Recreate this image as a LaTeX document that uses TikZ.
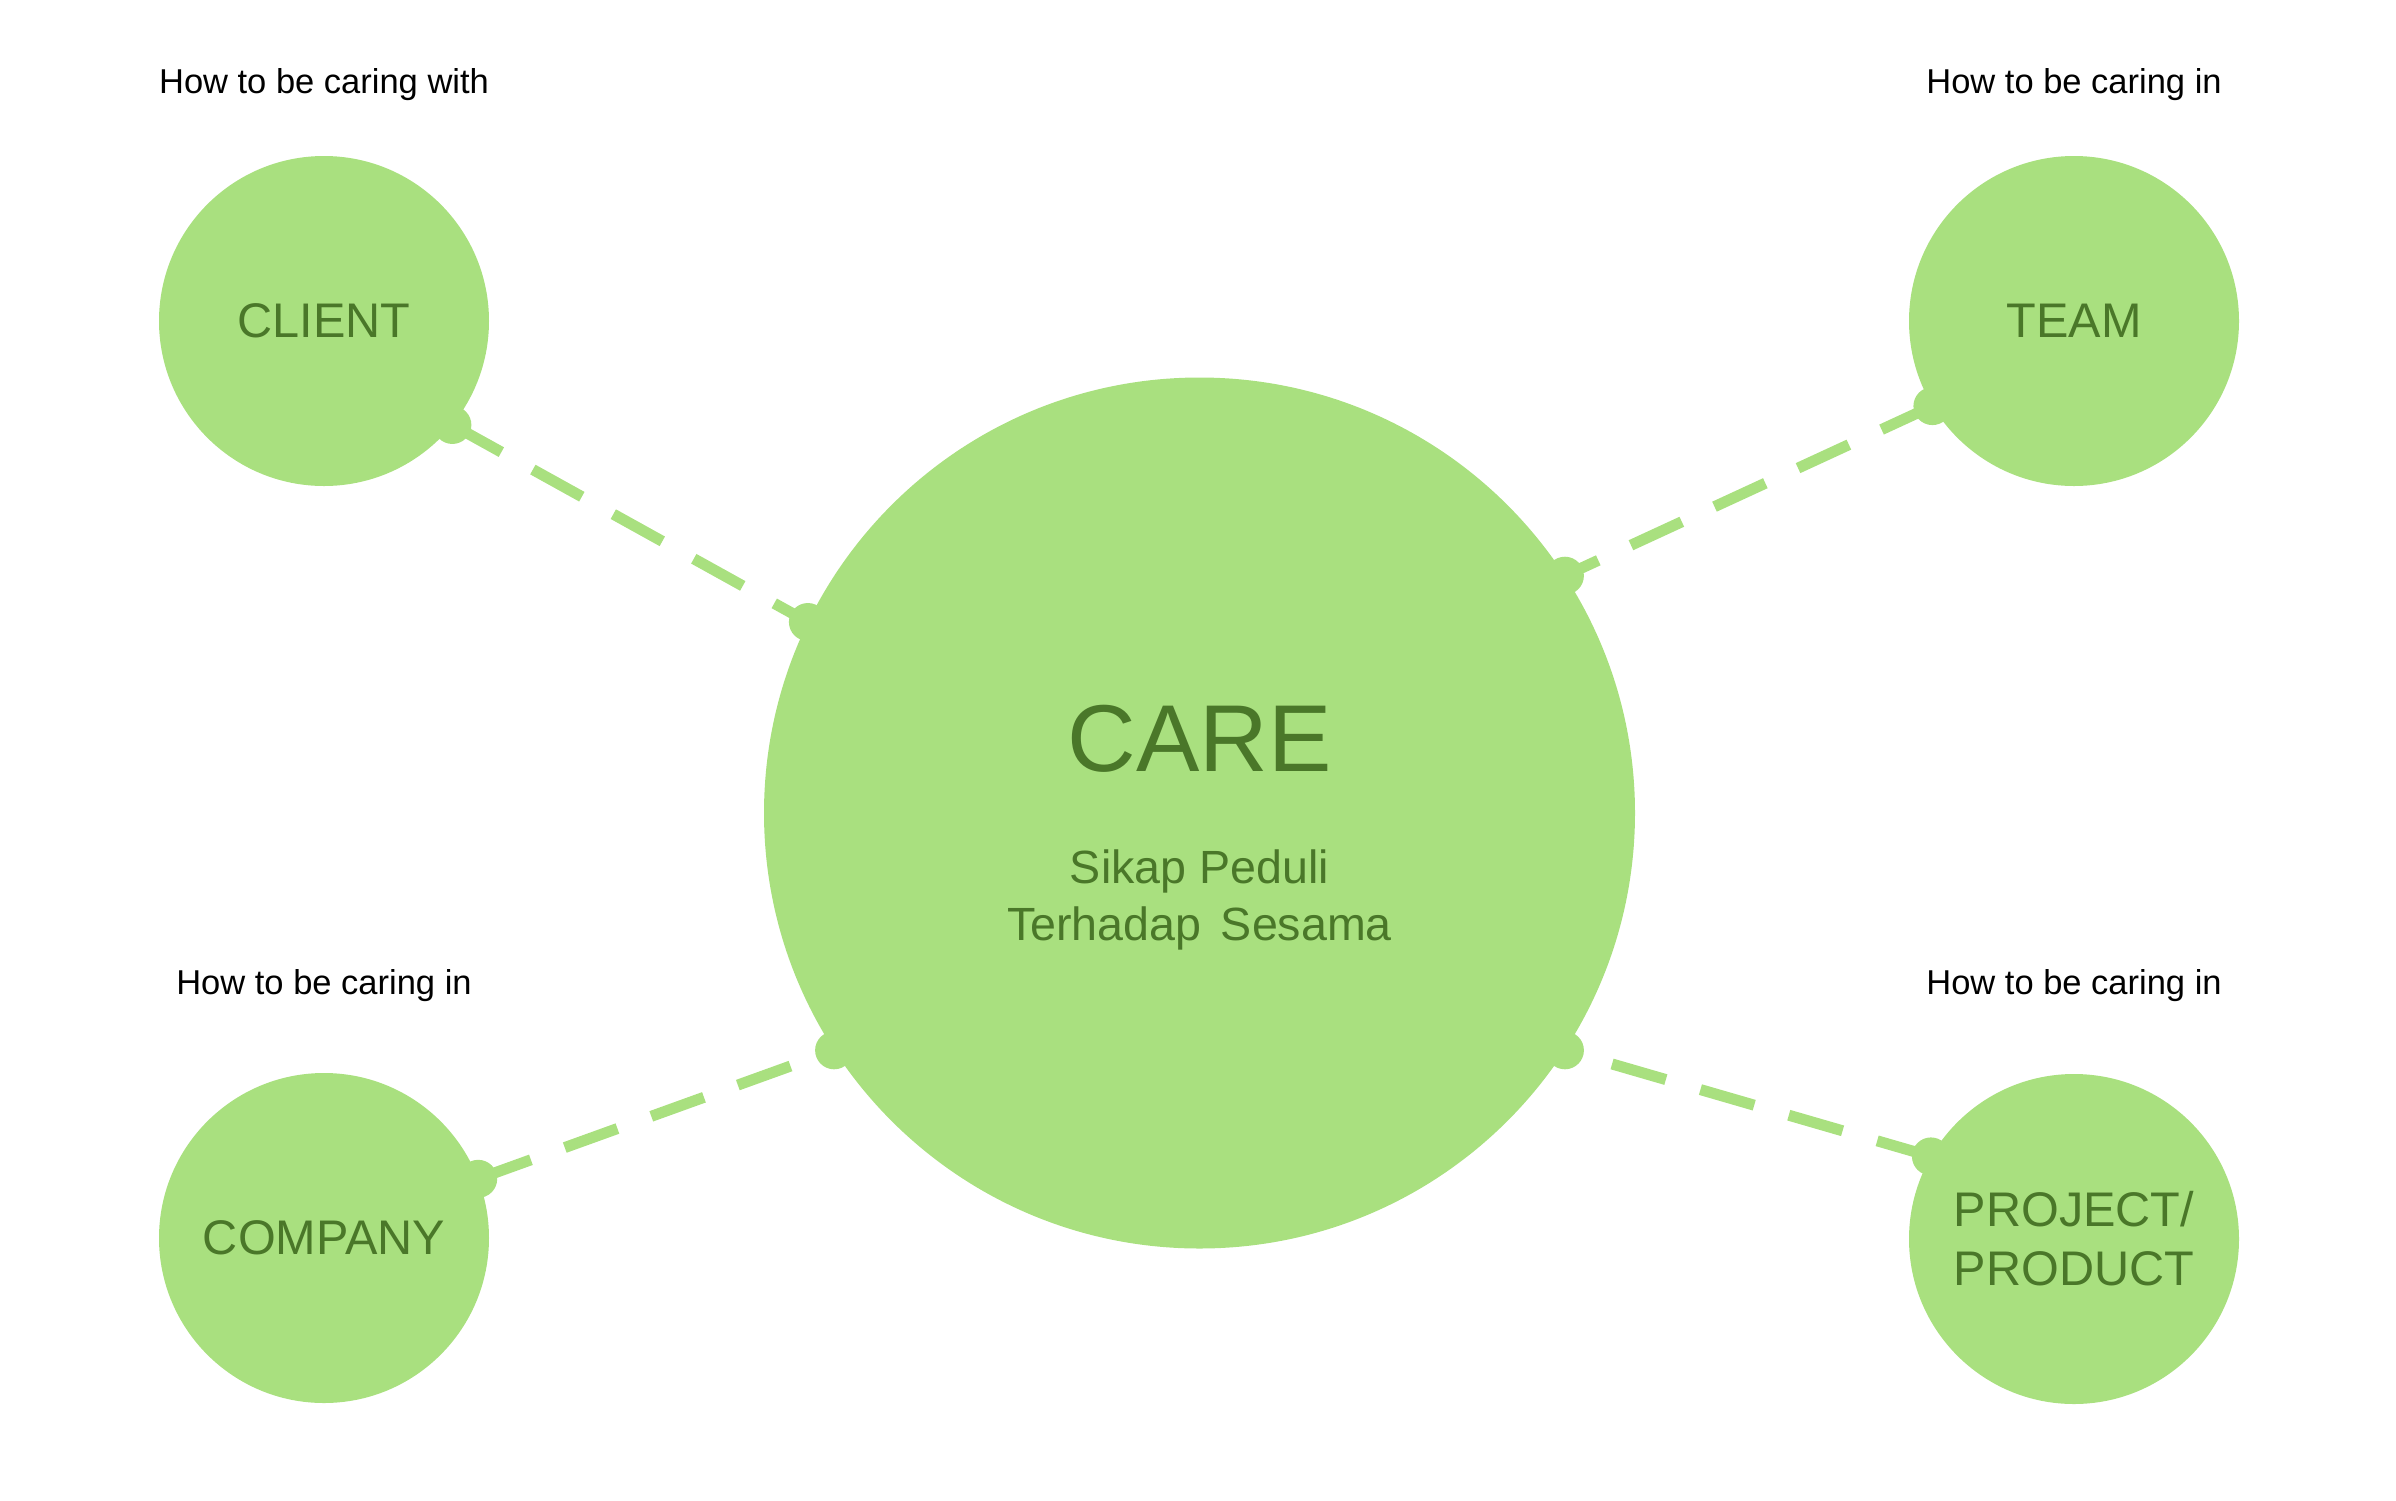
\documentclass[tikz,border=0pt]{standalone}
\usepackage{fontspec}
\setmainfont{Liberation Sans}
\definecolor{leaf}{HTML}{A9E07F}
\definecolor{ink}{HTML}{4A7729}
\begin{document}
\begin{tikzpicture}[x=1pt,y=-1pt,
  bubble/.style={circle,fill=leaf,inner sep=0pt,minimum size=330pt,text=ink,align=center,
    font=\fontsize{48.6}{59}\selectfont},
  hub/.style={circle,fill=leaf,inner sep=0pt,minimum size=871pt},
  conn/.style={draw=leaf,line width=11pt,dash pattern=on 56pt off 36pt},
  dotc/.style={fill=leaf},
  caption/.style={font=\fontsize{34.5}{41}\selectfont,text=black,anchor=base},
  hubtitle/.style={font=\fontsize{95}{110}\selectfont,text=ink,anchor=base},
  hubsub/.style={font=\fontsize{46.6}{57}\selectfont,text=ink,anchor=base}]
\useasboundingbox (0,0) rectangle (2396,1500);

% hub
\node[hub] (care) at (1199.5,813) {};
\node[hubtitle] (caretitle) at (1199.5,771) {CARE};
\node[hubsub] (caresub1) at (1199.5,883) {Sikap Peduli};
\node[hubsub] (caresub2) at (1199.5,940) {Terhadap\hskip0.42em Sesama};

% satellites
\node[bubble] (client) at (324,321) {CLIENT};
\node[bubble] (team) at (2074,321) {TEAM};
\node[bubble] (company) at (324,1238) {COMPANY};
\node[bubble] (project) at (2074,1239) {PROJECT/\\PRODUCT};

% captions
\node[caption] (capclient) at (324,93) {How to be caring with};
\node[caption] (capteam) at (2074,93) {How to be caring in};
\node[caption] (capcompany) at (324,994) {How to be caring in};
\node[caption] (capproject) at (2074,994) {How to be caring in};

% connectors
\draw[conn] (client.-39) -- (care.154.8);
\draw[conn] (team.211.7) -- (care.33.1);
\draw[conn] (company.21.6) -- (care.213.5);
\draw[conn] (project.150.5) -- (care.-33.6);

% end dots
\fill[dotc] (client.-39) circle (19);
\fill[dotc] (care.154.8) circle (19);
\fill[dotc] (team.211.7) circle (19);
\fill[dotc] (care.33.1) circle (19);
\fill[dotc] (company.21.6) circle (19);
\fill[dotc] (care.213.5) circle (19);
\fill[dotc] (project.150.5) circle (19);
\fill[dotc] (care.-33.6) circle (19);
\end{tikzpicture}
\end{document}
